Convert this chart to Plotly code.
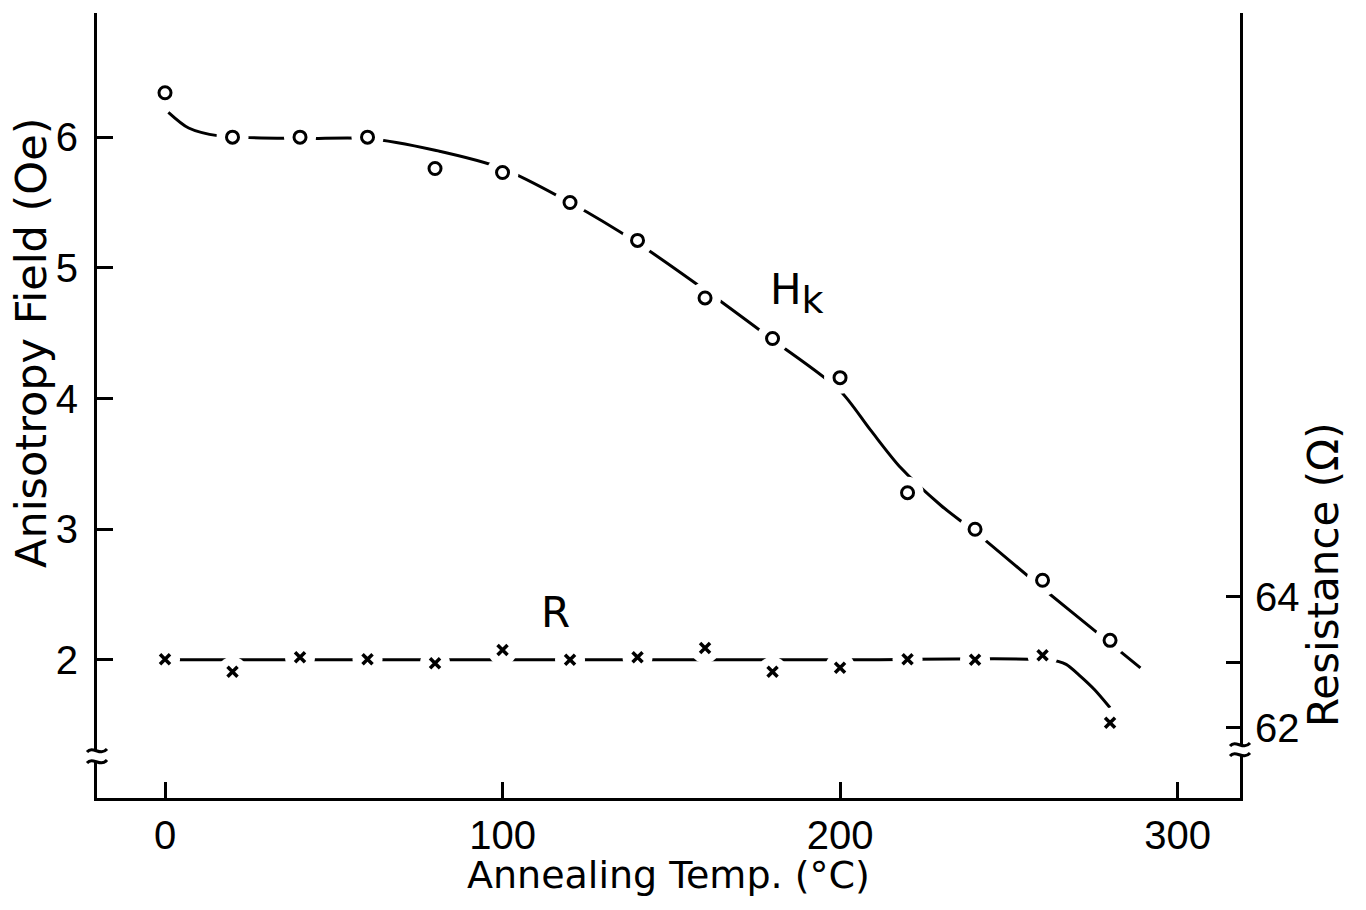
import plotly.graph_objects as go

# ---------------- data ----------------
temp = [0, 20, 40, 60, 80, 100, 120, 140, 160, 180, 200, 220, 240, 260, 280]
hk = [6.34, 6.00, 6.00, 6.00, 5.76, 5.73, 5.50, 5.21, 4.77, 4.46, 4.16, 3.28, 3.00, 2.61, 2.15]
res = [63.05, 62.86, 63.08, 63.05, 62.99, 63.19, 63.04, 63.08, 63.22, 62.86, 62.92, 63.05, 63.04, 63.11, 62.08]

# hand-drawn smooth curves through the data
hk_fit_temp = [1, 7, 16, 40, 60, 80, 100, 120, 140, 160, 180, 200, 209, 218, 230, 240, 259, 279, 289]
hk_fit = [6.19, 6.07, 6.01, 5.99, 5.99, 5.90, 5.76, 5.50, 5.19, 4.83, 4.45, 4.06, 3.76, 3.47, 3.18, 2.98, 2.57, 2.15, 1.94]
r_fit_temp = [0, 100, 200, 262, 267, 271, 275.5, 280]
r_fit = [63.04, 63.04, 63.04, 63.04, 62.97, 62.80, 62.58, 62.31]

x_ticks = [0, 100, 200, 300]
hk_ticks = [2, 3, 4, 5, 6]
r_ticks = [62, 64]
r_minor_ticks = [63]

# ---------------- layout geometry ----------------
W, H = 1366, 910
L, R, T, B = 97, 1240, 13, 798


def px(xp, yp):
    return (xp - L) / (R - L), (B - yp) / (B - T)


TICK_FONT = dict(family="Liberation Sans Narrow, Liberation Sans, Arial", size=40, color="black")
TEXT_FONT = "DejaVu Sans, Liberation Sans, Arial"

fig = go.Figure()

# Hk curve, gaps around markers, markers
fig.add_trace(go.Scatter(x=hk_fit_temp, y=hk_fit, mode="lines",
                         line=dict(color="black", width=3, shape="spline", smoothing=0.8),
                         hoverinfo="skip", showlegend=False))
fig.add_trace(go.Scatter(x=temp, y=hk, mode="markers",
                         marker=dict(symbol="circle", size=32, color="white", line=dict(width=0)),
                         hoverinfo="skip", showlegend=False))
fig.add_trace(go.Scatter(x=temp, y=hk, mode="markers", name="Hk",
                         marker=dict(symbol="circle-open", size=12, color="black", line=dict(width=3)),
                         showlegend=False))

# R curve (secondary axis)
fig.add_trace(go.Scatter(x=r_fit_temp, y=r_fit, mode="lines", yaxis="y2",
                         line=dict(color="black", width=3, shape="spline", smoothing=0.6),
                         hoverinfo="skip", showlegend=False))
fig.add_trace(go.Scatter(x=temp, y=res, mode="markers", yaxis="y2",
                         marker=dict(symbol="circle", size=30, color="white", line=dict(width=0)),
                         hoverinfo="skip", showlegend=False))
fig.add_trace(go.Scatter(x=temp, y=res, mode="markers", yaxis="y2", name="R",
                         marker=dict(symbol="x-thin-open", size=10, color="black", line=dict(width=3.5, color="black")),
                         showlegend=False))

# axis ranges matching the scale of the picture
x_range = [-20.15, 318.5]
hk_range = [0.944, 6.950]
r_range = [60.931, 72.916]

fig.update_layout(
    width=W, height=H,
    margin=dict(l=L, r=W - R, t=T, b=H - B),
    paper_bgcolor="white", plot_bgcolor="white",
    xaxis=dict(range=x_range, tickvals=x_ticks, ticks="inside", ticklen=16, tickwidth=3,
               tickcolor="black", showline=True, linewidth=3, linecolor="black",
               showgrid=False, zeroline=False, tickfont=TICK_FONT, ticklabelstandoff=0),
    yaxis=dict(range=hk_range, tickvals=hk_ticks, ticks="inside", ticklen=16, tickwidth=3,
               tickcolor="black", showline=True, linewidth=3, linecolor="black",
               showgrid=False, zeroline=False, tickfont=TICK_FONT, ticklabelstandoff=8),
    yaxis2=dict(range=r_range, tickvals=r_ticks, overlaying="y", side="right",
                ticks="inside", ticklen=14, tickwidth=3, tickcolor="black",
                minor=dict(tickvals=r_minor_ticks, ticks="inside", ticklen=14, tickwidth=3,
                           tickcolor="black", showgrid=False),
                showline=True, linewidth=3, linecolor="black", showgrid=False, zeroline=False,
                tickfont=TICK_FONT, ticklabelstandoff=4),
)


def label(text, xp, yp, size, angle=0):
    ax, ay = px(xp, yp)
    fig.add_annotation(text=text, x=ax, y=ay, xref="paper", yref="paper", xanchor="center",
                       yanchor="middle", showarrow=False, textangle=angle,
                       font=dict(family=TEXT_FONT, size=size, color="black"))


# axis titles and curve labels
label("Annealing Temp. (°C)", 668, 875, 38)
label("Anisotropy Field (Oe)", 31, 343, 43, -90)
label("Resistance (Ω)", 1323, 575, 42, -90)
label("H<sub><span style='font-size:38px'>k</span></sub>", 797, 293, 42)
label("R", 555, 612, 42)


# axis break marks
def pth(points):
    (x0, y0), (c1x, c1y), (c2x, c2y), (x1, y1) = [px(a, b) for a, b in points]
    return f"M {x0},{y0} C {c1x},{c1y} {c2x},{c2y} {x1},{y1}"


shapes = []
for axx, y_top, y_bot in [(L, 751, 762), (R, 745, 755)]:
    x0, y0 = px(axx - 5, y_bot)
    x1, y1 = px(axx + 5, y_top)
    shapes.append(dict(type="rect", xref="paper", yref="paper", x0=x0, x1=x1, y0=y0, y1=y1,
                       fillcolor="white", line=dict(width=0), layer="above"))
    for yy in (y_top, y_bot):
        shapes.append(dict(type="path", xref="paper", yref="paper", layer="above",
                           path=pth([(axx - 10, yy + 1), (axx - 4, yy - 6), (axx + 3, yy + 6), (axx + 10, yy - 2)]),
                           line=dict(color="black", width=3)))
fig.update_layout(shapes=shapes)

fig.write_html("out.html")
